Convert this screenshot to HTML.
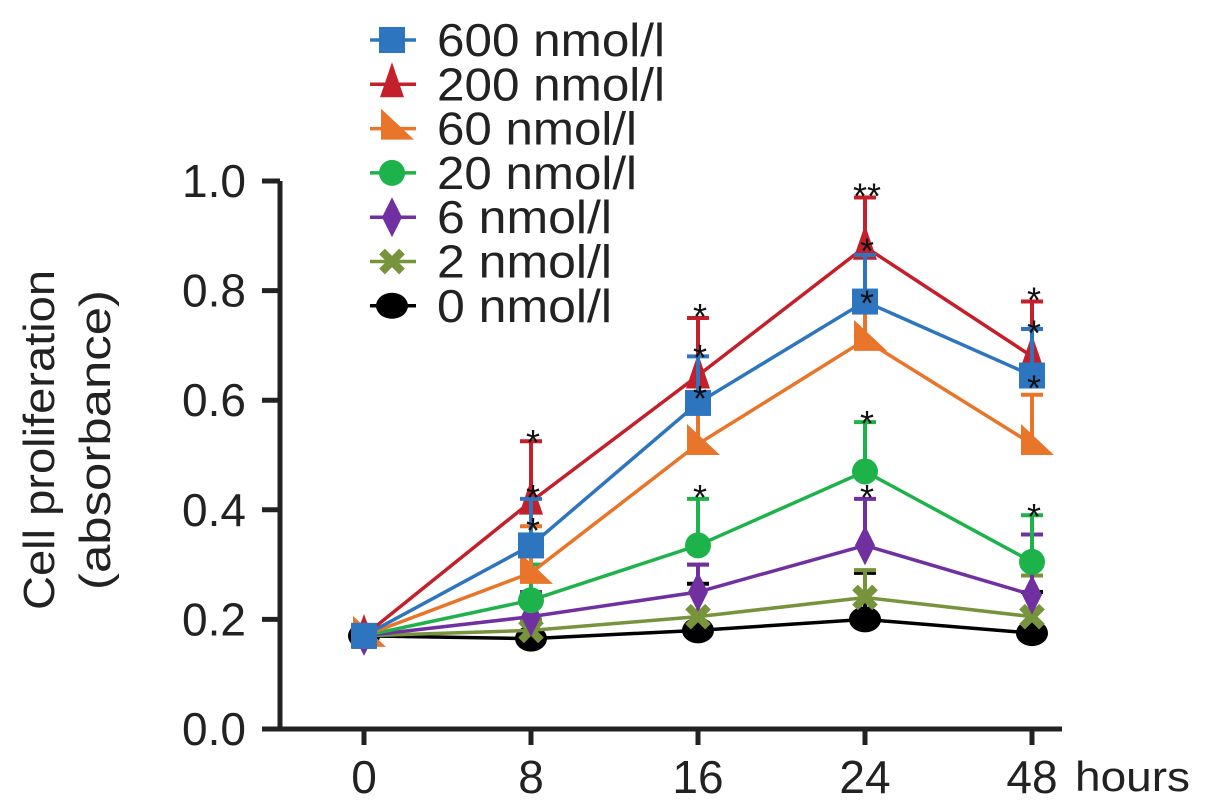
<!DOCTYPE html>
<html><head><meta charset="utf-8"><style>
body{margin:0;background:#fff}
svg text{font-family:"Liberation Sans",sans-serif;fill:#222}
</style></head><body>
<svg id="c" width="1205" height="806" xmlns="http://www.w3.org/2000/svg">
<g id="axes"></g>
<g id="plot"></g>
<g id="legend"></g>
<text transform="translate(54,440) rotate(-90)" text-anchor="middle" font-size="44" textLength="340" lengthAdjust="spacingAndGlyphs">Cell proliferation</text>
<text transform="translate(110,440) rotate(-90)" text-anchor="middle" font-size="44" textLength="300" lengthAdjust="spacingAndGlyphs">(absorbance)</text>
</svg>
<script>
const categories=['0','8','16','24','48'];
const yTicks=['0.0','0.2','0.4','0.6','0.8','1.0'];
const seriesNames=['600 nmol/l','200 nmol/l','60 nmol/l','20 nmol/l','6 nmol/l','2 nmol/l','0 nmol/l'];
const s600=[0.17,0.335,0.595,0.78,0.645];
const s200=[0.17,0.415,0.645,0.88,0.68];
const s60=[0.17,0.285,0.52,0.71,0.52];
const s20=[0.17,0.235,0.335,0.47,0.305];
const s6=[0.17,0.205,0.25,0.335,0.245];
const s2=[0.17,0.18,0.205,0.24,0.205];
const s0=[0.17,0.165,0.18,0.2,0.175];
const e600=[0,0.42,0.68,0.865,0.73];
const e200=[0,0.525,0.75,0.97,0.78];
const e60=[0,0.37,0.6,0.78,0.61];
const e20=[0,0.3,0.42,0.56,0.39];
const e6=[0,0.25,0.3,0.42,0.355];
const e2=[0,0.2,0.3,0.29,0.28];
const e0=[0,0.25,0.265,0.285,0.25];
const stars=[[1,0.54,'*'],[1,0.44,'*'],[1,0.38,'*'],[2,0.77,'*'],[2,0.695,'*'],[2,0.62,'*'],[2,0.44,'*'],[3,0.99,'**'],[3,0.89,'*'],[3,0.795,'*'],[3,0.575,'*'],[3,0.44,'*'],[4,0.8,'*'],[4,0.74,'*'],[4,0.64,'*'],[4,0.405,'*']];
const NS='http://www.w3.org/2000/svg';
const X=i=>364+i*167, Y=v=>729-v*548;
function mk(p,t,a){const e=document.createElementNS(NS,t);for(const k in a)e.setAttribute(k,a[k]);p.appendChild(e);return e;}
const ax=document.getElementById('axes'),pl=document.getElementById('plot'),lg=document.getElementById('legend');
let l=mk(ax,'line',{x1:280,y1:181,x2:280,y2:731,stroke:'#222','stroke-width':5});

l=mk(ax,'line',{x1:262,y1:729,x2:1062,y2:729,stroke:'#222','stroke-width':5});

yTicks.forEach((t,i)=>{const v=i*0.2;
 let k=mk(ax,'line',{x1:262,y1:Y(v),x2:280,y2:Y(v),stroke:'#222','stroke-width':5});
 
 let tx=mk(ax,'text',{x:246,y:Y(v)+16,'text-anchor':'end','font-size':46});tx.textContent=t;
 });
categories.forEach((c,i)=>{
 let k=mk(ax,'line',{x1:X(i),y1:729,x2:X(i),y2:745,stroke:'#222','stroke-width':5});
 
 let tx=mk(ax,'text',{x:X(i),y:793,'text-anchor':'middle','font-size':46});tx.textContent=c;
 });
let hr=mk(ax,'text',{x:1075,y:791,'font-size':42,textLength:115,lengthAdjust:'spacingAndGlyphs'});hr.textContent='hours';

const colors=['#2e75c0','#c4202c','#e8752a','#1db34a','#7030a0','#77933c','#000'];
const vals=[s600,s200,s60,s20,s6,s2,s0], errs=[e600,e200,e60,e20,e6,e2,e0];
const shapes=['square','tri','rtri','circle','diamond','cross','ellipse'];
function marker(g,shape,x,y,c){
 if(shape==='square')return mk(g,'rect',{x:x-13,y:y-13,width:26,height:26,fill:c});
 if(shape==='tri')return mk(g,'polygon',{points:`${x},${y-22} ${x+12},${y+13} ${x-12},${y+13}`,fill:c});
 if(shape==='rtri')return mk(g,'polygon',{points:`${x-11},${y-20} ${x+22},${y+11} ${x-11},${y+11}`,fill:c});
 if(shape==='circle')return mk(g,'circle',{cx:x,cy:y,r:13,fill:c});
 if(shape==='diamond')return mk(g,'polygon',{points:`${x},${y-20} ${x+10},${y} ${x},${y+20} ${x-10},${y}`,fill:c});
 if(shape==='cross'){const p=mk(g,'path',{d:`M${x-10},${y-10}L${x+10},${y+10}M${x+10},${y-10}L${x-10},${y+10}`,stroke:c,'stroke-width':8});return p;}
 return mk(g,'ellipse',{cx:x,cy:y,rx:16,ry:13,fill:c});
}
for(let s=6;s>=0;s--){
 const g=mk(pl,'g',{});
 vals[s].forEach((v,i)=>{if(errs[s][i]>v){
  const e=mk(g,'path',{d:`M${X(i)},${Y(v)}V${Y(errs[s][i])}M${X(i)-11},${Y(errs[s][i])}H${X(i)+11}`,stroke:colors[s],'stroke-width':4,fill:'none'});
  }});
 const ln=mk(g,'polyline',{points:vals[s].map((v,i)=>X(i)+','+Y(v)).join(' '),fill:'none',stroke:colors[s],'stroke-width':3.5});
 
 vals[s].forEach((v,i)=>{const m=marker(g,shapes[s],X(i),Y(v),colors[s]);
  });
}
stars.forEach(st=>{const t=mk(pl,'text',{x:X(st[0])+2,y:Y(st[1])+22,'text-anchor':'middle','font-size':36,style:'fill:#111'});t.textContent=st[2];
 });
seriesNames.forEach((n,s)=>{const y=40+s*44.3;
 const g=mk(lg,'g',{});
 mk(g,'line',{x1:370,y1:y,x2:416,y2:y,stroke:colors[s],'stroke-width':3.5});
 marker(g,shapes[s],392,y,colors[s]);
 const w=[228,228,200,200,175,175,175][s];
 const t=mk(g,'text',{x:437,y:y+16,'font-size':46,textLength:w,lengthAdjust:'spacingAndGlyphs'});t.textContent=n;
});
</script>
</body></html>
